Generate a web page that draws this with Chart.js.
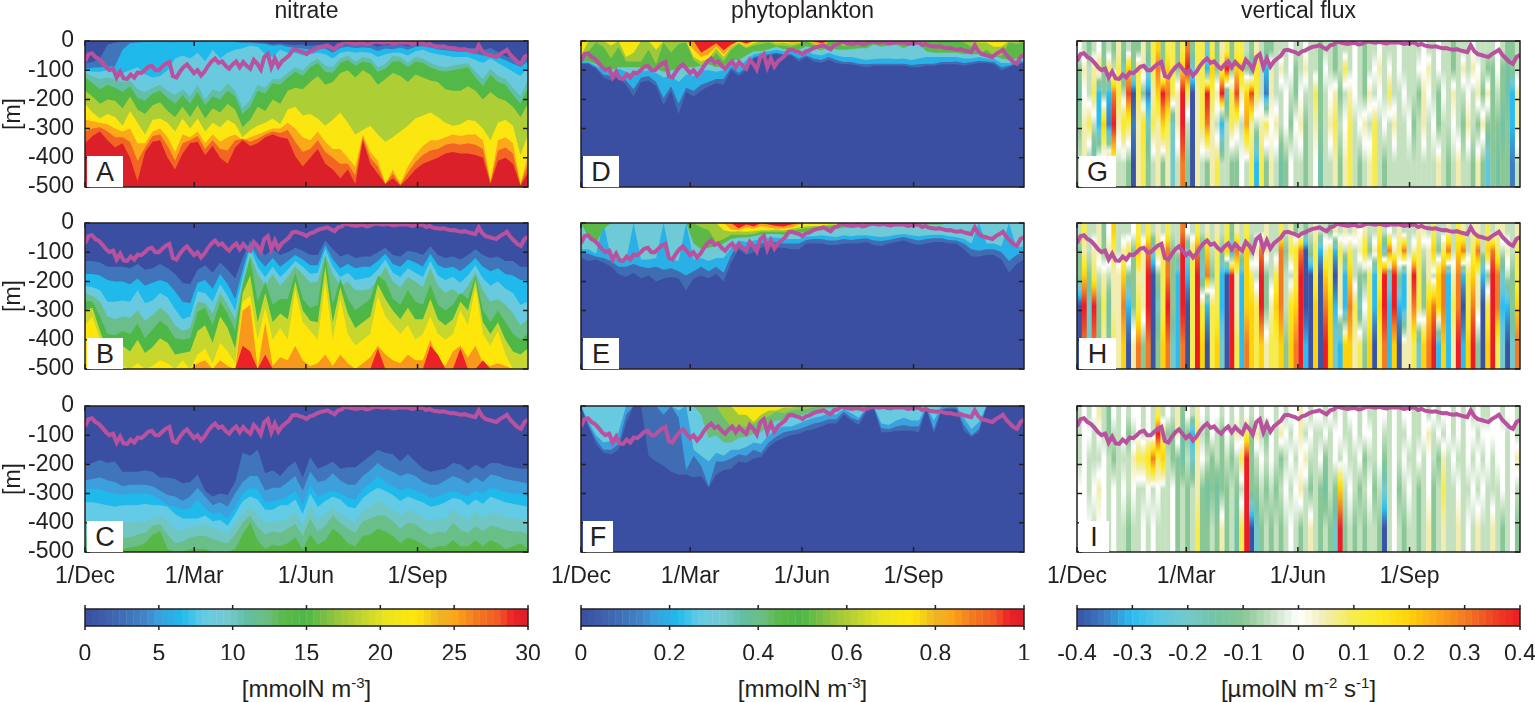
<!DOCTYPE html>
<html>
<head>
<meta charset="utf-8">
<script src="https://cdn.jsdelivr.net/npm/chart.js@4/dist/chart.umd.min.js"></script>
<style>
body { margin: 0; background: #fff; font-family: "Liberation Sans", sans-serif; color: #231f20; }
canvas { position: absolute; }
.txt { position: absolute; white-space: nowrap; transform: translateX(-50%); font-size: 23px; line-height: 26px; }
.txt sup { font-size: 15px; line-height: 0; }
.tag { position: absolute; background: #fff; font-size: 27px; text-align: center; line-height: 33px; height: 31px; }
</style>
</head>
<body>
<script>
var monthDays = [0, 90, 182, 274];
var monthLabels = ['1/Dec', '1/Mar', '1/Jun', '1/Sep'];

// mixed layer depth, same in every panel
var mixedLayer = [-70,-45,-42,-55,-62,-75,-90,-100,-95,-125,-105,-128,-130,-115,-125,-108,-110,-100,-88,-85,-100,-100,-88,-78,-72,-120,-125,-105,-90,-80,-95,-110,-100,-118,-105,-85,-70,-60,-75,-70,-85,-95,-80,-70,-90,-72,-85,-95,-65,-78,-98,-55,-45,-90,-60,-88,-70,-60,-50,-32,-30,-35,-38,-45,-35,-32,-25,-20,-18,-15,-22,-28,-15,-12,-2,-5,-8,-10,-8,-6,-12,-10,-4,-2,-4,-6,-3,-6,-8,-5,-5,-4,-6,-10,-8,-6,-5,-14,-10,-16,-18,-20,-18,-22,-25,-24,-28,-30,-28,-32,-35,-38,-15,-35,-45,-48,-52,-55,-45,-38,-30,-48,-60,-72,-78,-55,-48];

// nitrate: depth of each isoline through the year
var nitrateLevelsA = [3, 6.5, 8.5, 11, 14.5, 18, 22, 25, 27.5, 29.8];
var nitrateA3 = [-75,-72,-60,-12,-6,-2,0,0,0,0,0,0,0,0,0,0,0,0,0,0,0,-3,-3,-5,-6,-10,-8,-12,-14,-12,-16,-14,-12,-22,-14,-10,-12,-10,-12,-20,-14,-14,-12,-18,-10,-8,-10,-14,-18,-20,-22,-24,-24,-32,-24,-38,-52,-60,-70,-55];
var nitrateA6 = [-95,-92,-90,-88,-86,-30,-8,-5,-3,-3,-2,-3,-4,-2,-3,-2,-3,-2,-2,-2,-3,-6,-6,-8,-10,-16,-14,-20,-24,-26,-30,-26,-26,-40,-24,-20,-24,-22,-24,-34,-26,-28,-22,-30,-20,-18,-22,-28,-32,-34,-38,-36,-44,-50,-42,-56,-66,-78,-88,-70];
var nitrateA8 = [-100,-105,-105,-100,-105,-110,-100,-90,-115,-125,-120,-100,-60,-50,-60,-40,-70,-30,-60,-40,-30,-25,-15,-20,-45,-55,-30,-40,-40,-50,-45,-40,-45,-60,-40,-35,-40,-38,-40,-55,-45,-40,-40,-50,-35,-30,-40,-45,-50,-55,-55,-55,-65,-75,-60,-75,-90,-105,-120,-90];
var nitrateA11 = [-110,-120,-130,-125,-130,-140,-135,-165,-175,-160,-150,-170,-185,-165,-190,-150,-200,-165,-175,-145,-170,-230,-200,-150,-160,-130,-130,-110,-90,-100,-75,-60,-85,-90,-60,-50,-70,-55,-60,-90,-80,-50,-55,-75,-55,-60,-75,-85,-90,-85,-80,-75,-105,-130,-95,-120,-130,-160,-190,-130];
var nitrateA14 = [-125,-145,-165,-150,-160,-175,-155,-195,-205,-180,-170,-195,-215,-185,-215,-175,-220,-190,-200,-170,-190,-250,-225,-170,-180,-145,-150,-125,-105,-120,-90,-75,-105,-110,-75,-65,-85,-70,-75,-105,-95,-70,-70,-90,-70,-75,-90,-100,-105,-100,-95,-90,-125,-155,-115,-140,-150,-185,-215,-160];
var nitrateA18 = [-170,-190,-215,-200,-205,-230,-190,-235,-250,-220,-210,-240,-260,-225,-260,-220,-265,-230,-245,-215,-235,-295,-270,-225,-240,-200,-215,-170,-160,-165,-140,-120,-150,-140,-110,-100,-125,-100,-115,-150,-130,-110,-120,-140,-115,-125,-135,-140,-165,-170,-170,-155,-170,-200,-175,-195,-205,-225,-260,-215];
var nitrateA22 = [-215,-245,-265,-250,-260,-290,-240,-280,-320,-270,-265,-280,-310,-265,-300,-265,-310,-280,-295,-270,-285,-330,-305,-290,-280,-265,-285,-235,-225,-255,-250,-265,-290,-270,-245,-280,-320,-305,-290,-320,-345,-330,-310,-290,-265,-255,-245,-260,-280,-290,-285,-270,-275,-300,-340,-280,-270,-290,-390,-320];
var nitrateA25 = [-270,-275,-280,-285,-300,-310,-300,-350,-350,-310,-300,-330,-380,-320,-330,-310,-350,-320,-345,-330,-320,-340,-330,-320,-310,-300,-300,-280,-300,-330,-340,-310,-345,-370,-370,-400,-430,-320,-380,-410,-490,-440,-490,-430,-390,-360,-340,-340,-330,-320,-325,-320,-320,-340,-480,-340,-330,-350,-490,-390];
var nitrateA27 = [-310,-300,-295,-310,-330,-330,-345,-410,-365,-325,-320,-360,-410,-350,-340,-325,-370,-340,-370,-375,-340,-335,-345,-335,-320,-310,-315,-305,-345,-380,-370,-340,-380,-400,-420,-420,-460,-330,-400,-430,-490,-455,-492,-450,-415,-390,-375,-370,-355,-350,-355,-350,-355,-370,-485,-375,-365,-385,-492,-420];
var nitrateA29 = [-350,-325,-310,-340,-365,-350,-400,-480,-380,-345,-340,-400,-440,-385,-350,-345,-390,-360,-400,-420,-365,-340,-360,-350,-330,-320,-330,-335,-395,-430,-400,-370,-420,-440,-470,-440,-490,-340,-420,-455,-490,-470,-495,-470,-440,-420,-410,-400,-385,-380,-385,-385,-390,-400,-490,-410,-400,-420,-495,-450];

var nitrateLevelsB = [3, 6.5, 8.5, 12, 15, 19, 22.5, 25.5, 29];
var nitrateB3 = [-130,-130,-135,-150,-150,-150,-155,-140,-160,-155,-140,-155,-175,-205,-210,-160,-145,-170,-135,-160,-190,-120,-60,-90,-110,-90,-110,-100,-85,-95,-110,-110,-60,-90,-115,-105,-120,-115,-115,-100,-85,-110,-115,-95,-100,-110,-80,-110,-120,-115,-125,-110,-90,-110,-120,-115,-130,-130,-150,-150];
var nitrateB6 = [-175,-175,-180,-195,-200,-200,-210,-190,-215,-205,-195,-205,-235,-270,-275,-205,-195,-225,-175,-210,-260,-160,-70,-120,-150,-120,-150,-130,-110,-125,-145,-145,-75,-125,-155,-140,-155,-150,-150,-130,-105,-140,-150,-125,-135,-150,-105,-145,-155,-150,-165,-145,-120,-150,-165,-155,-175,-180,-195,-195];
var nitrateB8 = [-215,-220,-230,-270,-270,-265,-270,-230,-275,-265,-240,-255,-295,-330,-320,-235,-240,-270,-210,-250,-300,-185,-85,-150,-185,-150,-185,-160,-130,-150,-175,-170,-90,-150,-185,-170,-195,-190,-185,-160,-125,-170,-185,-155,-170,-185,-130,-180,-195,-185,-205,-180,-145,-190,-215,-200,-225,-240,-280,-270];
var nitrateB12 = [-240,-250,-270,-320,-330,-320,-325,-300,-335,-315,-290,-310,-350,-370,-360,-270,-275,-310,-240,-280,-330,-205,-110,-175,-215,-175,-215,-185,-150,-175,-205,-200,-110,-175,-215,-200,-230,-230,-225,-195,-150,-200,-220,-185,-200,-220,-155,-215,-240,-225,-250,-215,-170,-230,-270,-260,-280,-310,-350,-330];
var nitrateB15 = [-265,-270,-320,-380,-385,-370,-380,-345,-395,-365,-335,-355,-395,-400,-395,-305,-290,-350,-270,-310,-370,-215,-120,-270,-200,-280,-260,-260,-170,-260,-290,-280,-110,-280,-190,-260,-300,-280,-260,-180,-200,-260,-280,-230,-270,-280,-210,-280,-300,-280,-240,-260,-180,-300,-340,-300,-340,-380,-400,-380];
var nitrateB19 = [-300,-290,-370,-440,-440,-420,-440,-400,-445,-425,-395,-410,-450,-445,-440,-370,-350,-410,-320,-360,-430,-240,-180,-340,-240,-340,-310,-330,-200,-300,-335,-340,-150,-340,-220,-310,-360,-340,-320,-210,-260,-300,-330,-290,-330,-330,-260,-330,-350,-330,-270,-300,-195,-340,-380,-340,-400,-440,-450,-430];
var nitrateB23 = [-350,-320,-400,-500,-500,-490,-500,-480,-500,-490,-470,-480,-500,-470,-500,-450,-430,-480,-410,-440,-480,-270,-250,-400,-290,-400,-360,-400,-230,-340,-370,-400,-200,-400,-260,-380,-420,-400,-380,-250,-320,-350,-380,-350,-400,-380,-320,-380,-400,-380,-300,-350,-220,-380,-420,-370,-450,-500,-500,-500];
var nitrateB26 = [-500,-500,-500,-500,-500,-500,-500,-500,-500,-500,-500,-500,-500,-500,-500,-480,-470,-500,-470,-490,-500,-300,-280,-500,-340,-490,-460,-470,-420,-470,-490,-480,-450,-490,-450,-480,-500,-480,-460,-420,-450,-470,-480,-450,-470,-470,-400,-470,-490,-440,-420,-460,-420,-480,-490,-480,-490,-500,-500,-500];
var nitrateB29 = [-500,-500,-500,-500,-500,-500,-500,-500,-500,-500,-500,-500,-500,-500,-500,-500,-500,-500,-500,-500,-500,-420,-440,-500,-450,-500,-500,-500,-500,-500,-500,-500,-500,-500,-500,-500,-500,-500,-500,-430,-500,-500,-500,-500,-500,-500,-420,-450,-500,-500,-430,-500,-500,-470,-500,-500,-500,-500,-500,-500];

var nitrateLevelsC = [3, 5, 6.5, 8, 10, 12, 14];
var nitrateC3 = [-205,-195,-185,-195,-190,-225,-225,-225,-220,-225,-245,-245,-250,-265,-260,-235,-290,-310,-300,-305,-260,-160,-170,-150,-230,-220,-240,-210,-190,-245,-175,-215,-205,-190,-215,-210,-210,-190,-170,-150,-160,-165,-190,-165,-190,-215,-225,-220,-215,-195,-200,-220,-200,-215,-195,-195,-205,-210,-215,-215];
var nitrateC5 = [-255,-250,-245,-255,-260,-275,-270,-270,-270,-275,-290,-305,-310,-325,-310,-280,-310,-340,-330,-345,-300,-260,-240,-240,-290,-280,-280,-260,-240,-290,-225,-260,-255,-230,-255,-270,-270,-240,-220,-195,-215,-225,-240,-230,-240,-260,-270,-270,-255,-240,-250,-265,-245,-260,-235,-240,-250,-255,-260,-265];
var nitrateC6 = [-285,-285,-285,-295,-300,-305,-300,-300,-300,-305,-320,-340,-345,-355,-350,-320,-350,-370,-365,-385,-345,-300,-280,-285,-330,-325,-320,-310,-290,-340,-270,-310,-300,-290,-300,-315,-320,-285,-265,-240,-260,-275,-290,-280,-290,-300,-315,-310,-300,-290,-300,-310,-290,-300,-280,-285,-295,-300,-300,-310];
var nitrateC8 = [-330,-330,-335,-340,-345,-340,-340,-340,-335,-340,-340,-345,-370,-385,-385,-385,-375,-395,-390,-410,-370,-325,-310,-320,-355,-355,-340,-340,-320,-370,-300,-345,-325,-310,-320,-345,-350,-315,-295,-280,-290,-305,-325,-310,-320,-330,-345,-340,-330,-315,-320,-340,-320,-335,-310,-320,-330,-335,-340,-345];
var nitrateC10 = [-390,-395,-400,-395,-400,-400,-400,-395,-395,-385,-375,-395,-420,-425,-415,-410,-405,-415,-425,-440,-400,-370,-345,-375,-400,-395,-395,-385,-365,-410,-340,-390,-370,-345,-370,-385,-400,-355,-345,-325,-340,-355,-375,-355,-365,-380,-395,-385,-385,-355,-375,-390,-360,-385,-365,-370,-380,-385,-385,-395];
var nitrateC12 = [-450,-450,-445,-440,-445,-450,-450,-440,-435,-410,-405,-440,-470,-465,-450,-445,-445,-455,-465,-470,-440,-400,-375,-415,-440,-430,-435,-420,-405,-445,-385,-430,-410,-375,-400,-420,-435,-395,-385,-375,-375,-395,-420,-400,-405,-425,-440,-430,-435,-400,-425,-435,-410,-430,-410,-415,-425,-430,-430,-440];
var nitrateC14 = [-490,-480,-475,-470,-480,-490,-485,-480,-470,-440,-430,-490,-500,-500,-490,-490,-490,-500,-500,-500,-490,-440,-400,-460,-490,-475,-480,-470,-450,-490,-440,-475,-460,-420,-440,-470,-480,-445,-440,-420,-430,-445,-470,-450,-460,-475,-490,-480,-480,-460,-480,-480,-460,-480,-460,-470,-490,-480,-470,-490];

// phytoplankton isolines, same idea, high values sit at the surface
var phytoLevelsD = [0.08, 0.2, 0.3, 0.45, 0.58, 0.72, 0.84, 0.97];
var phytoD1 = [-80,-80,-95,-125,-135,-125,-150,-190,-140,-135,-155,-220,-170,-250,-175,-190,-170,-155,-145,-150,-100,-120,-100,-60,-55,-50,-45,-50,-50,-70,-55,-70,-75,-65,-75,-80,-80,-85,-90,-85,-85,-85,-85,-85,-90,-90,-85,-85,-80,-80,-80,-85,-80,-75,-75,-80,-100,-90,-80,-75];
var phytoD2 = [-75,-75,-90,-115,-120,-115,-135,-165,-125,-120,-140,-195,-155,-215,-160,-170,-150,-140,-130,-130,-90,-110,-90,-55,-50,-45,-40,-45,-45,-60,-50,-60,-65,-55,-65,-72,-72,-78,-80,-78,-78,-78,-78,-78,-82,-80,-78,-78,-72,-72,-70,-75,-72,-68,-70,-72,-90,-85,-75,-70];
var phytoD3 = [-72,-72,-85,-100,-110,-95,-105,-115,-105,-100,-110,-125,-120,-140,-115,-120,-100,-100,-105,-100,-75,-90,-65,-45,-40,-35,-30,-35,-35,-45,-35,-45,-50,-40,-50,-55,-55,-60,-65,-62,-60,-60,-62,-60,-65,-60,-55,-55,-55,-55,-55,-60,-60,-55,-60,-62,-75,-75,-70,-65];
var phytoD4 = [-70,-70,-80,-95,-100,-90,-90,-90,-90,-95,-95,-105,-100,-95,-90,-90,-85,-80,-90,-85,-65,-65,-50,-35,-35,-28,-20,-28,-28,-30,-18,-25,-32,-20,-30,-30,-28,-25,-25,-12,-20,-15,-12,-25,-10,-10,-35,-40,-40,-40,-40,-45,-45,-45,-50,-50,-60,-65,-60,-60];
var phytoD5 = [-60,-35,-5,-20,-60,-20,-70,-70,-70,-30,-80,-5,-40,-10,-5,-65,-85,-70,-40,-70,-30,-10,-25,-15,-10,-5,-15,-15,-20,-12,0,-14,-28,0,0,-18,-5,0,0,0,0,0,0,0,0,0,0,0,0,0,0,-5,-20,-45,-30,-50,-50,-5,-10,-5];
var phytoD6 = [-50,0,0,0,-15,0,-55,-40,0,0,-30,0,0,0,0,-55,-70,-60,-25,-55,-20,-5,-20,-8,0,0,-8,-5,-10,-6,0,-8,-22,0,0,-12,0,0,0,0,0,0,0,0,0,0,0,0,0,0,0,0,0,-5,-5,-20,-20,0,0,0];
var phytoD7 = [0,0,0,0,0,0,0,0,0,0,0,0,0,0,0,-30,-55,-45,-20,-45,-18,0,-15,0,0,0,-4,0,-6,-3,0,-6,-18,0,0,-8,0,0,0,0,0,0,0,0,0,0,0,0,0,0,0,0,0,0,0,0,0,0,0,0];
var phytoD8 = [0,0,0,0,0,0,0,0,0,0,0,0,0,0,0,0,-40,-25,-8,-32,-12,0,-8,0,0,0,0,0,0,0,0,0,-8,0,0,0,0,0,0,0,0,0,0,0,0,0,0,0,0,0,0,0,0,0,0,0,0,0,0,0];

var phytoLevelsE = [0.08, 0.2, 0.3, 0.45, 0.58, 0.72, 0.84, 0.97];
var phytoE1 = [-120,-130,-125,-135,-150,-175,-185,-170,-190,-180,-200,-190,-185,-190,-230,-190,-180,-190,-175,-200,-135,-90,-110,-100,-85,-80,-85,-85,-90,-90,-70,-70,-70,-75,-75,-70,-70,-70,-65,-75,-80,-70,-65,-60,-70,-75,-70,-65,-65,-70,-70,-90,-115,-115,-110,-110,-125,-170,-140,-125];
var phytoE2 = [-100,-105,-115,-120,-130,-150,-150,-140,-150,-155,-150,-160,-155,-165,-180,-165,-150,-165,-150,-170,-110,-70,-85,-75,-70,-65,-65,-70,-70,-70,-58,-55,-55,-60,-60,-55,-58,-55,-52,-60,-62,-58,-52,-48,-55,-60,-55,-52,-52,-58,-60,-70,-90,-95,-90,-90,-100,-130,-110,-100];
var phytoE3 = [-90,-90,-105,0,-120,-125,-130,0,-125,-125,-120,0,-125,-130,0,-125,-120,-130,-120,-120,-85,-60,-65,-60,-55,-50,-50,-55,-55,-55,-45,-45,-42,-45,-48,-42,-45,-42,-42,-45,-48,-45,-40,-38,-42,-45,-42,-40,-40,-45,-48,-55,-70,0,-70,-70,-80,0,-85,-80];
var phytoE4 = [0,-50,-70,-20,0,0,0,0,0,0,0,0,0,0,0,-70,-90,-85,-80,-70,-55,-50,-50,-45,-40,-38,-38,-40,-38,-35,-28,-25,-25,-20,-20,-15,-15,-15,-10,-8,-10,-10,-8,-8,-8,-5,-5,-5,-5,0,0,0,0,0,0,0,0,0,0,0];
var phytoE5 = [0,0,0,0,0,0,0,0,0,0,0,0,0,0,0,0,-15,-25,-65,-55,-40,-40,-40,-38,-30,-30,-30,-30,-28,-22,-18,-15,-15,-10,-10,-8,-5,-5,0,0,0,0,0,0,0,0,0,0,0,0,0,0,0,0,0,0,0,0,0,0];
var phytoE6 = [0,0,0,0,0,0,0,0,0,0,0,0,0,0,0,0,0,0,0,-25,-30,-28,-30,-28,-25,-25,-22,-25,-20,-15,-12,-10,-10,-5,-5,0,0,0,0,0,0,0,0,0,0,0,0,0,0,0,0,0,0,0,0,0,0,0,0,0];
var phytoE7 = [0,0,0,0,0,0,0,0,0,0,0,0,0,0,0,0,0,0,0,0,-22,-25,-15,-20,-10,-15,-20,-20,-15,-5,0,0,0,0,0,0,0,0,0,0,0,0,0,0,0,0,0,0,0,0,0,0,0,0,0,0,0,0,0,0];
var phytoE8 = [0,0,0,0,0,0,0,0,0,0,0,0,0,0,0,0,0,0,0,0,0,-18,-5,-12,0,-5,-10,-12,-5,0,0,0,0,0,0,0,0,0,0,0,0,0,0,0,0,0,0,0,0,0,0,0,0,0,0,0,0,0,0,0];

var phytoLevelsF = [0.08, 0.17, 0.28, 0.42, 0.58, 0.72];
var phytoF1 = [0,-70,-130,-160,-165,-150,-60,0,0,-170,-190,-205,-225,-235,-235,-245,-240,-280,-235,-220,-215,-190,-195,-180,-175,-140,-120,-110,-100,-95,-85,-80,-70,-60,-60,-30,-50,-65,-20,-10,-90,-90,-85,-85,-85,-90,-10,-95,-15,-10,-10,-85,-105,-90,0,0,0,0,0,0];
var phytoF2 = [0,-65,-115,-150,-150,-130,-30,0,0,0,0,-30,0,-40,-220,-170,-205,-275,-190,-190,-180,-165,-170,-150,-160,-125,-105,-90,-85,-80,-70,-60,-55,-45,-45,-20,-40,-50,-12,-5,-75,-80,-70,-65,-70,-70,-5,-80,-10,-5,-5,-65,-100,-80,0,0,0,0,0,0];
var phytoF3 = [0,-55,-100,-125,-120,-90,0,0,0,0,0,0,0,-15,0,-150,-170,-190,-160,-170,-150,-150,-140,-125,-130,-100,-80,-70,-70,-60,-50,-40,-35,-25,-30,-10,-25,-40,-5,0,-60,-65,-50,-40,-50,-50,0,-50,0,0,0,-40,-80,-55,0,0,0,0,0,0];
var phytoF4 = [0,0,0,0,0,0,0,0,0,0,0,0,0,0,0,0,-30,-110,-100,-125,-125,-110,-105,-95,-90,-70,-50,-50,-40,-35,-25,-20,-15,-5,-12,0,-5,-20,0,0,0,0,0,0,0,0,0,0,0,0,0,0,0,0,0,0,0,0,0,0];
var phytoF5 = [0,0,0,0,0,0,0,0,0,0,0,0,0,0,0,0,0,0,0,-40,-70,-70,-70,-60,-50,-35,-20,-25,-15,-12,-10,-5,-3,0,0,0,0,0,0,0,0,0,0,0,0,0,0,0,0,0,0,0,0,0,0,0,0,0,0,0];
var phytoF6 = [0,0,0,0,0,0,0,0,0,0,0,0,0,0,0,0,0,0,0,0,0,-30,-30,-55,-30,-15,-15,-5,-5,0,0,0,0,0,0,0,0,0,0,0,0,0,0,0,0,0,0,0,0,0,0,0,0,0,0,0,0,0,0,0];

// vertical flux, one row per sampled depth (top to bottom), columns run through the year
var fluxDepths = [-30, -95, -180, -285, -420];
var fluxG = [
[0,-.05,-.1,-.05,0,-.1,-.05,-.1,.05,-.1,-.05,-.1,-.1,.05,-.1,.1,.2,-.1,.1,.1,-.1,.1,.3,-.1,.1,.1,-.2,.1,-.1,.05,.1,-.1,.1,.1,-.05,-.1,.05,-.05,-.1,-.1,-.05,-.05,-.05,0,-.05,-.05,0,-.05,-.05,-.1,-.05,-.05,-.1,-.05,-.05,-.05,0,-.05,-.1,-.05,-.05,0,-.05,-.05,-.05,0,-.05,-.05,-.05,-.05,0,-.05,-.05,0,-.05,-.05,-.1,-.05,-.05,-.05,0,-.05,-.05,-.05,-.05,0,-.05,-.1,-.1,-.05],
[-.1,.05,-.05,.05,.1,-.1,.1,-.05,.1,-.2,.2,-.1,.1,.05,-.2,.1,.3,-.1,.2,.1,-.1,.2,.4,-.2,.1,.1,-.3,.2,-.1,.1,.4,-.1,.2,.2,-.1,-.2,.15,-.05,-.3,.05,-.05,.05,-.05,0,-.1,-.05,.05,-.05,-.05,-.1,0,-.05,-.1,-.05,.1,-.05,0,-.05,-.1,-.05,0,.05,-.05,0,-.05,0,-.05,-.05,-.05,0,0,.05,-.05,0,-.05,-.05,-.1,-.05,.05,-.05,.05,0,-.05,-.1,-.1,0,-.1,-.15,-.1,-.05],
[-.15,0,-.05,.1,-.3,-.1,-.3,.3,.1,-.05,.35,-.4,.1,-.1,-.35,.05,.2,.4,.3,.1,.05,.4,.1,-.4,.05,.1,.4,.1,.05,.4,-.2,.1,.35,.05,.2,.35,.1,-.05,-.35,.05,-.05,-.05,0,-.05,-.1,0,-.05,-.05,.1,-.1,-.05,0,.05,-.1,-.05,.05,0,-.05,-.1,.05,-.05,0,-.05,.1,-.05,-.05,0,-.05,-.05,-.1,.05,0,-.05,-.1,0,-.05,.05,-.05,-.05,0,-.05,.05,-.1,.05,-.1,-.05,-.1,-.15,-.3,.05],
[-.1,.05,.1,-.05,-.3,.2,-.35,.4,.05,.15,.1,-.35,.05,.15,-.2,.1,.05,.2,.1,-.2,.05,.4,-.05,-.4,.05,.1,.3,.05,-.05,-.3,-.05,.1,.05,-.05,.25,.05,-.05,.05,.1,0,.05,-.05,0,-.1,0,.05,-.1,-.05,.05,-.1,-.05,.05,.1,-.05,0,.1,-.05,0,.05,-.05,.1,-.05,0,-.05,.05,-.05,-.05,0,-.1,-.05,.05,-.05,0,-.1,-.05,-.05,0,-.05,-.1,.05,-.05,-.1,.05,-.1,-.1,-.1,-.15,-.1,-.3,.05],
[-.05,.05,-.1,-.2,.05,-.05,.15,.1,-.05,-.05,-.1,-.4,.05,.1,-.1,-.05,.05,-.1,.05,-.2,-.05,.3,-.1,-.4,.05,-.05,-.1,.05,.1,-.05,-.05,-.1,-.1,0,-.05,.1,-.3,.1,-.1,.05,-.05,-.15,-.1,0,-.05,-.05,-.1,-.05,0,-.15,-.05,-.05,.05,-.1,.05,.1,-.05,-.1,-.05,.05,.1,-.05,-.1,-.05,-.05,-.05,-.05,-.05,-.05,-.05,-.05,-.05,-.05,.05,-.05,-.1,-.05,.05,-.05,-.05,-.1,.05,-.1,-.25,-.1,-.15,-.1,-.1,-.35,-.05]
];
var fluxH = [
[-.05,.1,-.05,-.05,.05,-.1,0,.2,-.05,-.05,-.05,0,.1,-.05,.1,-.05,.05,-.05,.1,-.05,-.05,.3,0,-.05,.1,-.05,.05,-.05,.05,-.05,.1,-.1,.05,-.05,.1,-.05,-.05,-.05,.05,-.05,-.05,.1,-.05,.05,-.1,-.05,-.1,-.05,.05,-.05,-.05,-.1,.05,-.05,.05,-.05,.05,0,.05,-.05,-.05,.1,-.05,0,-.05,.05,-.05,-.05,-.05,.05,.05,-.05,.1,-.05,-.05,.05,-.05,.1,.05,-.05,.05,.05,-.05,.1,-.05,.05,.05,-.05,-.05,.05],
[-.1,.05,-.05,.05,.05,-.1,.05,.1,-.05,.05,.1,-.1,.2,.05,.3,-.2,.1,.1,.3,-.1,-.05,.4,-.2,.1,.3,-.15,.2,-.05,.1,-.1,.2,-.3,.3,-.05,.2,-.1,.05,.3,.05,-.05,-.05,.3,-.1,.1,.15,.3,-.4,-.1,.1,-.3,.05,.1,-.3,.1,-.05,.1,-.05,.05,.15,-.1,.05,.2,-.2,.3,.05,.1,.3,-.05,.05,.1,-.05,.05,.2,-.1,.1,.3,-.05,.2,.3,-.05,.1,.3,-.05,.2,.3,.1,-.05,.05,-.05,.1],
[-.1,.2,-.1,.1,-.05,.05,-.05,.05,.05,.2,-.1,-.1,.05,.05,.4,-.4,-.1,.1,.3,-.1,-.3,.4,-.3,.1,.4,-.2,.3,-.1,.1,-.3,-.4,.4,.05,-.3,.2,.1,-.05,.4,-.1,-.05,.1,.3,-.05,-.05,.1,.4,-.4,-.4,.1,-.4,.2,.1,-.4,.05,-.3,.2,-.05,-.1,-.1,.1,-.3,.1,.4,-.2,.4,-.1,-.3,.05,.4,.1,-.1,.05,-.05,.2,.3,-.3,.05,.3,-.3,.1,.2,.05,-.3,-.1,.4,.3,-.2,-.05,-.1,.1],
[-.4,.4,-.2,.4,-.1,.1,-.15,.05,.05,.3,-.3,-.1,.1,.05,.4,-.4,-.2,.1,.4,-.1,-.3,.4,-.4,.1,.4,.1,-.3,.1,.1,-.3,-.4,.4,.05,-.3,.2,.2,.1,.4,-.1,.05,.2,.3,-.05,.15,.2,.4,-.4,-.4,.2,-.4,.3,.2,-.3,.05,-.3,.3,.1,-.2,0,.1,-.3,.2,.4,-.3,.4,-.3,-.3,.05,.3,.1,-.1,.2,.3,.2,.3,-.3,.1,.3,-.4,.1,.3,.05,-.4,.1,.4,.3,-.3,-.3,-.1,.2],
[-.4,.3,-.2,.3,-.1,.05,-.1,.1,.05,.2,-.4,.05,.3,-.1,.3,-.4,-.1,.2,.3,-.2,-.3,.3,-.4,.1,.4,.2,-.4,.1,.2,-.2,-.4,.4,.1,-.3,.3,.2,.1,.2,.05,.1,.1,.2,-.1,.2,.3,.4,-.3,-.4,.2,-.4,.4,.2,-.2,-.3,.2,.2,.05,.1,-.1,.2,-.4,.1,.3,-.3,.2,-.4,.05,.05,.1,-.2,.2,.3,.4,-.3,.2,-.3,.05,.4,-.3,.2,.4,-.1,-.4,.2,.4,.1,-.2,-.4,-.2,.3]
];
var fluxI = [
[-.05,0,-.05,0,.05,-.05,-.1,0,-.05,0,-.05,0,0,-.05,0,-.05,.1,-.05,0,-.05,.05,-.1,0,-.05,.05,0,-.05,0,0,-.05,0,-.05,0,-.05,0,-.05,0,-.05,0,0,-.05,0,-.05,0,0,.05,0,-.05,0,0,-.05,0,-.05,0,-.05,0,0,-.05,0,-.05,-.05,0,0,-.05,0,-.05,0,0,-.05,-.05,0,-.05,0,-.05,0,0,-.05,0,-.05,0,-.05,0,-.05,-.05,0,0,-.05,0,0,-.05],
[-.05,0,0,-.05,0,-.05,-.1,-.05,-.05,0,-.1,-.05,0,-.05,0,-.05,.4,.1,-.1,-.1,.05,-.15,-.1,-.3,.1,-.05,-.1,0,-.05,-.1,0,-.05,.05,-.05,.1,-.1,.05,-.05,-.1,0,-.05,.05,0,-.05,0,.05,-.05,0,-.05,-.05,0,-.05,0,0,-.05,-.05,0,-.05,0,0,-.05,0,-.05,-.05,0,-.05,-.05,0,-.05,-.05,0,.05,-.05,0,-.05,0,-.05,0,-.05,0,0,-.05,0,0,0,0,0,-.05,0,-.05],
[-.05,0,-.05,-.05,-.05,0,-.05,-.1,-.05,-.05,-.05,.05,.1,.1,.15,.3,.1,.2,-.05,-.1,-.1,-.15,-.05,-.2,.05,0,-.05,-.1,-.05,-.1,-.05,-.1,-.05,.1,.4,-.1,-.05,0,-.05,0,-.05,-.1,-.05,0,-.05,0,.05,-.05,-.05,0,-.1,-.05,0,-.05,0,-.05,-.05,0,-.1,-.05,-.05,0,-.1,-.05,0,-.05,0,-.05,-.05,0,-.05,0,-.05,-.1,.05,-.05,0,-.05,-.05,0,-.05,0,-.05,0,-.05,0,0,-.05,0,.05],
[0,0,-.05,0,.05,0,-.05,0,-.05,0,-.05,0,-.05,-.05,0,-.05,0,-.05,-.05,0,-.1,-.05,-.1,-.05,.05,-.1,-.15,-.1,-.15,-.1,-.1,-.05,-.1,-.05,.4,-.1,-.1,-.05,-.1,-.05,-.1,-.05,0,-.05,0,.05,-.05,-.1,-.05,-.1,-.15,-.05,-.1,.2,-.05,0,-.05,-.1,-.05,0,-.1,-.05,-.2,-.05,0,-.1,-.05,0,-.05,-.1,-.05,0,-.1,-.05,.1,-.05,-.05,0,-.05,-.05,0,-.05,0,-.05,-.05,-.05,0,-.05,0,-.05],
[0,0,0,-.05,0,0,-.05,0,-.05,-.05,-.1,-.05,-.05,0,-.05,0,-.05,-.05,-.05,0,-.1,-.05,-.1,-.05,.1,-.1,-.1,-.05,-.1,.05,-.1,-.05,-.15,.1,.4,-.4,-.2,-.1,-.05,-.1,-.05,-.1,-.05,0,-.05,-.1,-.05,.05,-.05,-.1,-.05,-.1,-.2,.4,-.1,-.05,-.1,-.05,-.1,-.05,-.05,-.1,-.4,-.05,0,-.05,-.1,-.05,-.05,-.1,-.05,.05,-.1,-.05,.05,-.05,-.05,.05,-.05,0,-.05,.05,-.05,-.05,.05,-.05,-.1,-.05,0,-.1]
];

// colour bars
var rampStops = [[0,'#3a4fa1'],[2,'#3f66b0'],[4,'#4283c5'],[5,'#3da0dc'],[6.5,'#1fb9ec'],[8,'#63cbe5'],[9.5,'#75c9d2'],[11,'#62bfa5'],[12.5,'#6dbd7b'],[13.5,'#5cb947'],[15,'#4db748'],[17,'#93c53d'],[19,'#c8d72e'],[20.5,'#ede51c'],[22.5,'#ffe60a'],[24,'#edb425'],[25,'#fba81a'],[26.5,'#f47a20'],[28,'#f15a24'],[29,'#ec2227'],[30,'#d8202b']];
var fluxStops = [[-.4,'#3a53a4'],[-.35,'#3b7dc1'],[-.3,'#2bbdf0'],[-.25,'#5cc7e3'],[-.2,'#74c9cc'],[-.15,'#72c3a6'],[-.1,'#89c796'],[-.05,'#c3e0bf'],[0,'#ffffff'],[.05,'#f1edb0'],[.1,'#f6ec4e'],[.15,'#fce91e'],[.2,'#ffd20a'],[.25,'#fba51b'],[.3,'#f37c22'],[.35,'#ee4623'],[.4,'#ed1c24']];

function hex(c) { return [1, 3, 5].map(function (i) { return parseInt(c.substr(i, 2), 16); }); }
function rampColor(stops, v) {
	for (var i = 1; i < stops.length; i++) {
		if (v <= stops[i][0]) {
			var t = (v - stops[i - 1][0]) / (stops[i][0] - stops[i - 1][0]);
			t = Math.max(0, t);
			var a = hex(stops[i - 1][1]), b = hex(stops[i][1]);
			return 'rgb(' + a.map(function (x, k) { return Math.round(x + (b[k] - x) * t); }).join(',') + ')';
		}
	}
	return stops[stops.length - 1][1];
}

var colLeft = [85, 581, 1077];
var rowTop = [41, 223, 406];
var panelW = 443, panelH = 146;
var PAD_TOP = 20;
var INK = '#231f20';
var FONT = 'Liberation Sans';

// draws base colour, inward ticks on all sides and the black box
var boxPlugin = {
	id: 'boxPlugin',
	beforeDatasetsDraw: function (chart, args, o) {
		var a = chart.chartArea, c = chart.ctx;
		if (o.base) { c.fillStyle = o.base; c.fillRect(a.left, a.top, a.right - a.left, a.bottom - a.top); }
	},
	afterDraw: function (chart, args, o) {
		var a = chart.chartArea, c = chart.ctx, len = o.tick;
		c.save();
		c.strokeStyle = INK;
		c.lineWidth = 1.5;
		c.beginPath();
		chart.scales.x.ticks.forEach(function (t) {
			var x = chart.scales.x.getPixelForValue(t.value);
			c.moveTo(x, a.top); c.lineTo(x, a.top + len);
			c.moveTo(x, a.bottom); c.lineTo(x, a.bottom - len);
		});
		chart.scales.y.ticks.forEach(function (t) {
			var y = chart.scales.y.getPixelForValue(t.value);
			c.moveTo(a.left, y); c.lineTo(a.left + len, y);
			c.moveTo(a.right, y); c.lineTo(a.right - len, y);
		});
		c.stroke();
		c.strokeRect(a.left, a.top, a.right - a.left, a.bottom - a.top);
		c.restore();
	}
};

function mkCanvas(left, top, w, h) {
	var cv = document.createElement('canvas');
	cv.width = w; cv.height = h;
	cv.style.left = left + 'px'; cv.style.top = top + 'px';
	cv.style.width = w + 'px'; cv.style.height = h + 'px';
	document.body.appendChild(cv);
	return cv;
}

function addText(cls, html, css) {
	var d = document.createElement('div');
	d.className = cls;
	d.innerHTML = html;
	Object.assign(d.style, css);
	document.body.appendChild(d);
}

function lineDays(arr) {
	return arr.map(function (v, i) { return { x: i * 365 / (arr.length - 1), y: v }; });
}

function mixedDataset() {
	return { type: 'line', data: lineDays(mixedLayer), borderColor: '#b9519f', borderWidth: 4, pointRadius: 0, fill: false, tension: 0 };
}

function isolineSets(levels, lines, fillTo) {
	var sets = lines.map(function (arr, i) {
		return {
			type: 'line', data: lineDays(arr), borderWidth: 0, pointRadius: 0, tension: 0,
			fill: fillTo, backgroundColor: rampColor(rampStops, fillTo == 'end' ? levels[i] * 30 : levels[i])
		};
	});
	// first in the list paints last, so the extreme level must come first
	return sets.reverse();
}

// one bar per column, coloured top to bottom through its row values
function fluxSets(rows) {
	var n = rows[0].length, cols = [];
	for (var i = 0; i < n; i++) cols.push(rows.map(function (r) { return r[i]; }));
	return [{
		type: 'bar', grouped: false, barPercentage: 1.06, categoryPercentage: 1, borderWidth: 0,
		data: cols.map(function (c, i) { return { x: (i + 0.5) * 365 / n, y: [0, -500] }; }),
		backgroundColor: function (ctx) {
			var chart = ctx.chart, y = chart.scales.y;
			if (ctx.dataIndex === undefined || !chart.chartArea) return '#fff';
			var g = chart.ctx.createLinearGradient(0, y.getPixelForValue(0), 0, y.getPixelForValue(-500));
			var c = cols[ctx.dataIndex];
			g.addColorStop(0, rampColor(fluxStops, c[0]));
			for (var r = 0; r < c.length; r++) {
				g.addColorStop(-fluxDepths[r] / 500, rampColor(fluxStops, c[r]));
				if (r + 1 < c.length) for (var k = 1; k < 6; k++) {
					g.addColorStop(-(fluxDepths[r] + (fluxDepths[r + 1] - fluxDepths[r]) * k / 6) / 500, rampColor(fluxStops, c[r] + (c[r + 1] - c[r]) * k / 6));
				}
			}
			g.addColorStop(1, rampColor(fluxStops, c[c.length - 1]));
			return g;
		}
	}];
}

function drawPanel(col, row, letter, tagW, datasets, base) {
	var left = colLeft[col], top = rowTop[row];
	var cv = mkCanvas(left - 85, top - PAD_TOP, 85 + panelW + 8, PAD_TOP + panelH + 40);
	new Chart(cv, {
		data: { datasets: [mixedDataset()].concat(datasets) },
		plugins: [boxPlugin],
		options: {
			responsive: false, animation: false, events: [],
			layout: { padding: { top: PAD_TOP, right: 8, left: 0, bottom: 0 } },
			plugins: { legend: { display: false }, tooltip: { enabled: false }, boxPlugin: { base: base, tick: 5 } },
			scales: {
				x: {
					type: 'linear', min: 0, max: 365, offset: false,
					grid: { display: false }, border: { display: false },
					afterBuildTicks: function (s) { s.ticks = monthDays.map(function (d) { return { value: d }; }); },
					ticks: {
						display: row == 2, autoSkip: false, maxRotation: 0, padding: 3, color: INK,
						font: { family: FONT, size: 23 },
						callback: function (v) { return monthLabels[monthDays.indexOf(v)]; }
					},
					afterFit: function (s) { s.height = 40; }
				},
				y: {
					min: -500, max: 0, grid: { display: false }, border: { display: false },
					ticks: { display: col == 0, autoSkip: false, stepSize: 100, padding: 3, color: INK, font: { family: FONT, size: 23 } },
					title: { display: col == 0, text: '[m]', color: INK, padding: 0, font: { family: FONT, size: 23 } },
					afterFit: function (s) { s.width = 85; }
				}
			}
		}
	});
	addText('tag', letter, { left: (left + 2) + 'px', top: (top + panelH - 31) + 'px', width: tagW + 'px' });
}

function drawColorbar(col, stops, lo, hi, step, unit) {
	var left = colLeft[col], n = 64, cells = [];
	for (var i = 0; i < n; i++) cells.push(lo + (i + 0.5) * (hi - lo) / n);
	var cv = mkCanvas(left - 45, 600, panelW + 90, 60);
	new Chart(cv, {
		data: { datasets: [{
			type: 'bar', barPercentage: 1.06, categoryPercentage: 1, borderWidth: 0,
			data: cells.map(function (v) { return { x: v, y: [0, 1] }; }),
			backgroundColor: cells.map(function (v) { return rampColor(stops, v); })
		}] },
		plugins: [{
			id: 'barTicks',
			afterDraw: function (chart) {
				var a = chart.chartArea, c = chart.ctx;
				c.save();
				c.strokeStyle = INK; c.lineWidth = 1.5;
				c.beginPath();
				chart.scales.x.ticks.forEach(function (t) {
					var x = chart.scales.x.getPixelForValue(t.value);
					c.moveTo(x, a.top - 4); c.lineTo(x, a.top);
					c.moveTo(x, a.bottom); c.lineTo(x, a.bottom + 4);
				});
				c.stroke();
				c.strokeRect(a.left, a.top, a.right - a.left, a.bottom - a.top);
				c.restore();
			}
		}],
		options: {
			responsive: false, animation: false, events: [],
			layout: { padding: { top: 9, left: 45, right: 45, bottom: 0 } },
			plugins: { legend: { display: false }, tooltip: { enabled: false } },
			scales: {
				x: {
					type: 'linear', min: lo, max: hi, offset: false,
					grid: { display: false }, border: { display: false },
					ticks: {
						stepSize: step, autoSkip: false, maxRotation: 0, padding: 7, color: INK,
						font: { family: FONT, size: 23 },
						callback: function (v) { return String(+v.toFixed(1)); }
					},
					afterFit: function (s) { s.height = 34; }
				},
				y: { display: false, min: 0, max: 1 }
			}
		}
	});
	addText('txt', unit, { left: (left + panelW / 2) + 'px', top: '676px', fontSize: '24px' });
}

drawPanel(0, 0, 'A', 36, isolineSets(nitrateLevelsA, [nitrateA3, nitrateA6, nitrateA8, nitrateA11, nitrateA14, nitrateA18, nitrateA22, nitrateA25, nitrateA27, nitrateA29], 'start'), '#3a4fa1');
drawPanel(0, 1, 'B', 36, isolineSets(nitrateLevelsB, [nitrateB3, nitrateB6, nitrateB8, nitrateB12, nitrateB15, nitrateB19, nitrateB23, nitrateB26, nitrateB29], 'start'), '#3a4fa1');
drawPanel(0, 2, 'C', 36, isolineSets(nitrateLevelsC, [nitrateC3, nitrateC5, nitrateC6, nitrateC8, nitrateC10, nitrateC12, nitrateC14], 'start'), '#3a4fa1');
drawPanel(1, 0, 'D', 36, isolineSets(phytoLevelsD, [phytoD1, phytoD2, phytoD3, phytoD4, phytoD5, phytoD6, phytoD7, phytoD8], 'end'), '#3a4fa1');
drawPanel(1, 1, 'E', 36, isolineSets(phytoLevelsE, [phytoE1, phytoE2, phytoE3, phytoE4, phytoE5, phytoE6, phytoE7, phytoE8], 'end'), '#3a4fa1');
drawPanel(1, 2, 'F', 30, isolineSets(phytoLevelsF, [phytoF1, phytoF2, phytoF3, phytoF4, phytoF5, phytoF6], 'end'), '#3a4fa1');
drawPanel(2, 0, 'G', 37, fluxSets(fluxG), '#ffffff');
drawPanel(2, 1, 'H', 37, fluxSets(fluxH), '#ffffff');
drawPanel(2, 2, 'I', 30, fluxSets(fluxI), '#ffffff');

drawColorbar(0, rampStops, 0, 30, 5, '[mmolN m<sup>-3</sup>]');
drawColorbar(1, rampStops.map(function (s) { return [s[0] / 30, s[1]]; }), 0, 1, 0.2, '[mmolN m<sup>-3</sup>]');
drawColorbar(2, fluxStops, -0.4, 0.4, 0.1, '[\u00b5molN m<sup>-2</sup> s<sup>-1</sup>]');

addText('txt', 'nitrate', { left: (colLeft[0] + panelW / 2) + 'px', top: '-3px' });
addText('txt', 'phytoplankton', { left: (colLeft[1] + panelW / 2) + 'px', top: '-3px' });
addText('txt', 'vertical flux', { left: (colLeft[2] + panelW / 2) + 'px', top: '-3px' });
</script>
</body>
</html>
